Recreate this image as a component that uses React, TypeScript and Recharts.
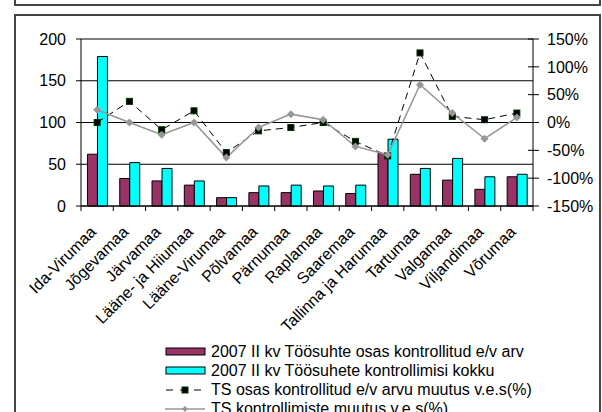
import React from 'react';
import { ComposedChart, Bar, Line, XAxis, YAxis, CartesianGrid } from 'recharts';

// maakonnad
const categories = [
  'Ida-Virumaa', 'Jõgevamaa', 'Järvamaa', 'Lääne- ja Hiiumaa', 'Lääne-Virumaa', 'Põlvamaa', 'Pärnumaa',
  'Raplamaa', 'Saaremaa', 'Tallinna ja Harumaa', 'Tartumaa', 'Valgamaa', 'Viljandimaa', 'Võrumaa'
];
const kontrollitud = [62, 33, 30, 25, 10, 16, 16, 18, 15, 63, 38, 31, 20, 35];
const kontrollimisi = [179, 52, 45, 30, 10, 24, 25, 24, 25, 80, 45, 57, 35, 38];
const osasMuutus = [0, 38, -13, 21, -54, -15, -9, 0, -34, -60, 125, 11, 5, 17];
const kontrollMuutus = [23, 0, -22, 0, -63, -9, 15, 5, -43, -58, 68, 17, -29, 9];
const leftTicks = [0, 50, 100, 150, 200];
const rightTicks = [-150, -100, -50, 0, 50, 100, 150];

const legendItems = [
  '2007 II kv Töösuhte osas kontrollitud e/v arv',
  '2007 II kv Töösuhete kontrollimisi kokku',
  'TS osas kontrollitud e/v arvu muutus v.e.s(%)',
  'TS kontrollimiste muutus v.e.s(%)'
];

const data = categories.map((name, i) => ({
  name,
  kontrollitud: kontrollitud[i],
  kontrollimisi: kontrollimisi[i],
  osasMuutus: osasMuutus[i],
  kontrollMuutus: kontrollMuutus[i]
}));

const FONT = '"Liberation Sans", Arial, sans-serif';
const PLOT_LEFT = 81;
const PLOT_RIGHT = 533;
const BAND = (PLOT_RIGHT - PLOT_LEFT) / categories.length;

// tick jooned kategooriate vahel + kaldus silt
const CategoryTick = (props: any) => {
  const { x, y, payload, index } = props;
  const half = BAND / 2;
  const tx = x;
  const ty = y + 27;
  return (
    <g>
      <line x1={x - half} y1={y} x2={x - half} y2={y + 5} stroke="#000" />
      {index === categories.length - 1 && (
        <line x1={x + half} y1={y} x2={x + half} y2={y + 5} stroke="#000" />
      )}
      <text x={tx} y={ty} transform={`rotate(-45, ${tx}, ${ty})`} textAnchor="end" fontSize={16} fill="#000">
        {payload.value}
      </text>
    </g>
  );
};

// parempoolne telg: läbivad tickid
const RightTick = (props: any) => {
  const { x, y, payload } = props;
  return (
    <g>
      <line x1={x - 5} y1={y} x2={x + 6} y2={y} stroke="#000" />
      <text x={x + 14} y={y} dy="0.36em" textAnchor="start" fontSize={16} fill="#000">
        {`${payload.value}%`}
      </text>
    </g>
  );
};

const SquareDot = (props: any) => {
  const { cx, cy, index } = props;
  if (cx == null || cy == null) return <g key={index} />;
  return <rect key={index} x={cx - 3} y={cy - 3} width={6} height={6} fill="#000" stroke="#003300" />;
};

const DiamondDot = (props: any) => {
  const { cx, cy, index } = props;
  if (cx == null || cy == null) return <g key={index} />;
  return (
    <polygon
      key={index}
      points={`${cx},${cy - 4} ${cx + 4},${cy} ${cx},${cy + 4} ${cx - 4},${cy}`}
      fill="#969696"
    />
  );
};

const LegendSwatch = ({ i }: { i: number }) => {
  if (i === 0) return <svg width={42} height={10}><rect x={1} y={1} width={39} height={7} fill="#993366" stroke="#000" /></svg>;
  if (i === 1) return <svg width={42} height={10}><rect x={1} y={1} width={39} height={7} fill="#00FFFF" stroke="#000" /></svg>;
  if (i === 2)
    return (
      <svg width={42} height={10}>
        <line x1={0} y1={5} x2={40} y2={5} stroke="#000" strokeDasharray="7 7" strokeDashoffset={-1} />
        <rect x={17} y={2} width={6} height={6} fill="#000" stroke="#003300" />
      </svg>
    );
  return (
    <svg width={42} height={10}>
      <line x1={0} y1={5} x2={40} y2={5} stroke="#969696" strokeWidth={1.5} />
      <polygon points="20,2 23,5 20,8 17,5" fill="#969696" />
    </svg>
  );
};

export default function App() {
  return (
    <div style={{ position: 'fixed', left: 0, top: 0, width: 602, height: 412, background: '#fff', overflow: 'hidden', fontFamily: FONT }}>
      {/* ülemine (pealkirja) kast, poolenisti pildist väljas */}
      <div style={{ position: 'absolute', left: 14, top: -20, width: 583, height: 22, border: '2px solid #444', textAlign: 'center', fontSize: 16, lineHeight: '20px' }}>
        Töösuhte osas kontrollitud e/v arvu muutus v.e.s(%)
      </div>
      <div style={{ position: 'absolute', left: 14, top: 14, width: 583, height: 420, border: '2px solid #444' }} />

      <div style={{ position: 'absolute', left: 0, top: 0 }}>
        <ComposedChart
          width={602}
          height={412}
          data={data}
          margin={{ top: 39, right: 0, left: 0, bottom: 0 }}
          barCategoryGap="20%"
          barGap={0}
          style={{ fontFamily: FONT }}
        >
          <CartesianGrid yAxisId="left" vertical={false} stroke="#000" />
          <XAxis
            dataKey="name"
            height={206}
            interval={0}
            axisLine={{ stroke: '#000' }}
            tickLine={false}
            tickSize={0}
            tickMargin={0}
            tick={<CategoryTick />}
          />
          <YAxis
            yAxisId="left"
            width={81}
            domain={[0, 200]}
            ticks={leftTicks}
            interval={0}
            axisLine={{ stroke: '#000' }}
            tickLine={{ stroke: '#000' }}
            tickSize={5}
            tickMargin={10}
            tick={{ fill: '#000', fontSize: 16 }}
          />
          <YAxis
            yAxisId="right"
            orientation="right"
            width={69}
            domain={[-150, 150]}
            ticks={rightTicks}
            interval={0}
            axisLine={{ stroke: '#000' }}
            tickLine={false}
            tickSize={0}
            tickMargin={0}
            tick={<RightTick />}
          />
          <Bar yAxisId="left" dataKey="kontrollitud" fill="#993366" stroke="#000" strokeWidth={1} isAnimationActive={false} />
          <Bar yAxisId="left" dataKey="kontrollimisi" fill="#00FFFF" stroke="#000" strokeWidth={1} isAnimationActive={false} />
          <Line
            yAxisId="right"
            dataKey="osasMuutus"
            stroke="#000"
            strokeWidth={1}
            strokeDasharray="7 5"
            dot={<SquareDot />}
            activeDot={false}
            isAnimationActive={false}
          />
          <Line
            yAxisId="right"
            dataKey="kontrollMuutus"
            stroke="#969696"
            strokeWidth={1.5}
            dot={<DiamondDot />}
            activeDot={false}
            isAnimationActive={false}
          />
        </ComposedChart>
      </div>

      {/* legend */}
      <div style={{ position: 'absolute', left: 165, top: 342, fontSize: 16, lineHeight: '19px', color: '#000' }}>
        {legendItems.map((label, i) => (
          <div key={label} style={{ display: 'flex', alignItems: 'center', whiteSpace: 'nowrap' }}>
            <LegendSwatch i={i} />
            <span style={{ marginLeft: 4 }}>{label}</span>
          </div>
        ))}
      </div>
    </div>
  );
}
